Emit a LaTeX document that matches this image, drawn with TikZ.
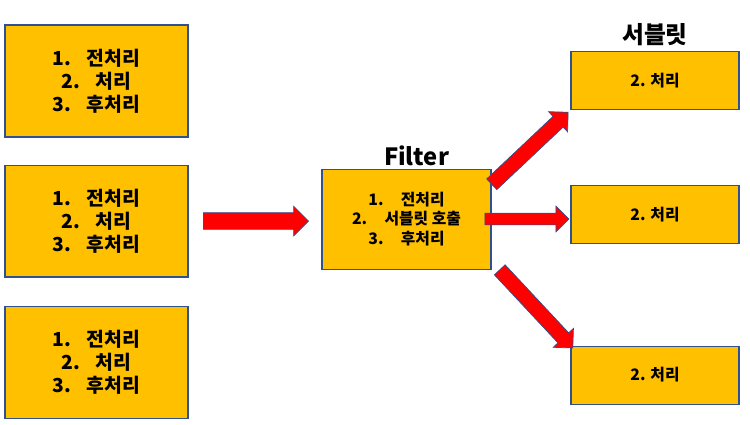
\documentclass[tikz,border=0pt]{standalone}
\usepackage{fontspec}
\setmainfont{Noto Sans CJK KR}
\usepackage{tikz}
\usetikzlibrary{positioning,shapes.arrows}
\definecolor{boxgold}{HTML}{FFC000}
\definecolor{edgeblue}{HTML}{2F528F}

\begin{document}
\begin{tikzpicture}[
    x=0.02cm, y=-0.02cm,
    node distance=0.54cm,
    box/.style={draw=edgeblue, fill=boxgold, line width=0.6pt, align=center, inner sep=0pt},
    stage/.style={box, minimum width=3.66cm, minimum height=2.24cm, font=\fontsize{11}{13}\selectfont\bfseries},
    filterbox/.style={box, minimum width=3.38cm, minimum height=2.0cm, font=\fontsize{9}{11.1}\selectfont\bfseries},
    servlet/.style={box, minimum width=3.36cm, minimum height=1.16cm, font=\fontsize{9}{11}\selectfont\bfseries},
    title/.style={font=\fontsize{13.5}{16}\selectfont\bfseries, inner sep=0pt, anchor=base},
    fat/.style={single arrow, draw=edgeblue, fill=red, line width=0.4pt, inner sep=0pt, sloped, anchor=tail}
  ]
    \useasboundingbox (0,0) rectangle (750,424);
    \node[stage] (L1) at (96.5,81) {1.\hspace{0.8em}전처리\\2.\hspace{0.8em}처리\\3.\hspace{0.8em}후처리};
    \node[stage, below=of L1] (L2) {1.\hspace{0.8em}전처리\\2.\hspace{0.8em}처리\\3.\hspace{0.8em}후처리};
    \node[stage, below=0.56cm of L2] (L3) {1.\hspace{0.8em}전처리\\2.\hspace{0.8em}처리\\3.\hspace{0.8em}후처리};
    \node[filterbox, right=2.66cm of L2, yshift=0.04cm] (filter) {1.\hspace{1.1em}전처리\\2.\hspace{1.1em}서블릿 호출\\3.\hspace{1.1em}후처리};
    \node[servlet] (S1) at (655,80.5) {2. 처리};
    \node[servlet, below=1.5cm of S1] (S2) {2. 처리};
    \node[servlet, below=2.03cm of S2] (S3) {2. 처리};
    \node[title] (flabel) at ([xshift=0.2cm, yshift=0.06cm]filter.north) {Filter};
    \node[title] (slabel) at ([yshift=0.14cm]S1.north) {서블릿};
    \path (L2.east) -- (L2.east -| filter.west) node[fat, pos=0.11, inner ysep=0.16cm, single arrow head extend=0.13cm, minimum height=2.1cm] {};
    \path ([yshift=-0.32cm]filter.north east) -- (S1.south west) node[fat, pos=0, inner ysep=0.14cm, single arrow head extend=0.13cm, minimum height=2.1cm] {};
    \path ([xshift=-0.14cm]filter.east) -- (S2.west |- filter.east) node[fat, pos=0, inner ysep=0.11cm, single arrow head extend=0.14cm, minimum height=1.68cm] {};
    \path ([xshift=0.16cm]filter.south east) -- (S3.north west) node[fat, pos=0, inner ysep=0.14cm, single arrow head extend=0.13cm, minimum height=2.14cm] {};
  \end{tikzpicture}
\end{document}
